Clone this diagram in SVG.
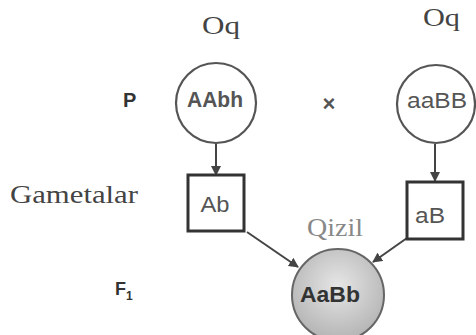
<svg xmlns="http://www.w3.org/2000/svg" width="476" height="335" viewBox="0 0 476 335">
<defs>
<style>
.lbl{font-family:"Liberation Serif",serif;font-size:25px;fill:#444}
.gen{font-family:"Liberation Sans",Arial,sans-serif;font-size:22px;font-weight:bold;fill:#555}
.gen2{font-family:"Liberation Sans",Arial,sans-serif;font-size:22px;fill:#555}
.circ{fill:#fff;stroke:#555;stroke-width:2.2}
.box{fill:#fff;stroke:#333;stroke-width:3}
.con{stroke:#444;stroke-width:2;fill:none}
</style>
<radialGradient id="g" cx="50%" cy="40%" r="60%">
<stop offset="0" stop-color="#e6e6e6"/>
<stop offset="1" stop-color="#b4b4b4"/>
</radialGradient>
<marker id="ah" viewBox="0 0 10 10" refX="9" refY="5" markerWidth="5" markerHeight="5" orient="auto" markerUnits="strokeWidth">
<path d="M0,0 L10,5 L0,10 z" fill="#444"/>
</marker>
</defs>
<rect width="476" height="335" fill="#fff"/>
<g id="labels">
<text class="lbl" x="202" y="34" font-size="26" textLength="38" lengthAdjust="spacingAndGlyphs">Oq</text>
<text class="lbl" x="423" y="26" font-size="26" textLength="37" lengthAdjust="spacingAndGlyphs">Oq</text>
<text class="lbl" x="10" y="203" font-size="26" textLength="128" lengthAdjust="spacingAndGlyphs">Gametalar</text>
<text class="lbl" x="307" y="236" textLength="56" lengthAdjust="spacingAndGlyphs" style="fill:#888">Qizil</text>
<text x="123" y="107" style="font-family:'Liberation Sans',Arial,sans-serif;font-size:20px;font-weight:bold;fill:#333">P</text>
<text x="115" y="295" style="font-family:'Liberation Sans',Arial,sans-serif;font-size:18px;font-weight:bold;fill:#333">F<tspan dy="5" font-size="12">1</tspan></text>
<text x="329" y="111" text-anchor="middle" style="font-family:'Liberation Sans',Arial,sans-serif;font-size:22px;font-weight:bold;fill:#555">×</text>
</g>
<g id="connectors">
<line class="con" x1="216" y1="143" x2="216" y2="175" marker-end="url(#ah)"/>
<line class="con" x1="435" y1="144" x2="435" y2="181" marker-end="url(#ah)"/>
<line class="con" x1="247" y1="232" x2="298" y2="267" marker-end="url(#ah)"/>
<line class="con" x1="407" y1="238" x2="373" y2="262" marker-end="url(#ah)"/>
</g>
<g id="p1">
<circle class="circ" cx="216" cy="103" r="40"/>
<text class="gen" x="215" y="107" text-anchor="middle" textLength="56" lengthAdjust="spacingAndGlyphs">AAbh</text>
</g>
<g id="p2">
<circle class="circ" cx="436" cy="104" r="39"/>
<text class="gen2" x="437" y="108" text-anchor="middle" textLength="60" lengthAdjust="spacingAndGlyphs">aaBB</text>
</g>
<g id="g1">
<rect class="box" x="188" y="175" width="56" height="56"/>
<text class="gen2" x="215" y="212" text-anchor="middle" textLength="29" lengthAdjust="spacingAndGlyphs">Ab</text>
</g>
<g id="g2">
<rect class="box" x="407" y="182" width="56" height="57"/>
<text class="gen2" x="430" y="223" text-anchor="middle" textLength="30" lengthAdjust="spacingAndGlyphs">aB</text>
</g>
<g id="f1">
<circle cx="338" cy="295" r="46" fill="url(#g)" stroke="#666" stroke-width="2"/>
<text class="gen2" x="330" y="302" text-anchor="middle" textLength="60" lengthAdjust="spacingAndGlyphs" style="fill:#333;font-weight:bold">AaBb</text>
</g>
</svg>
